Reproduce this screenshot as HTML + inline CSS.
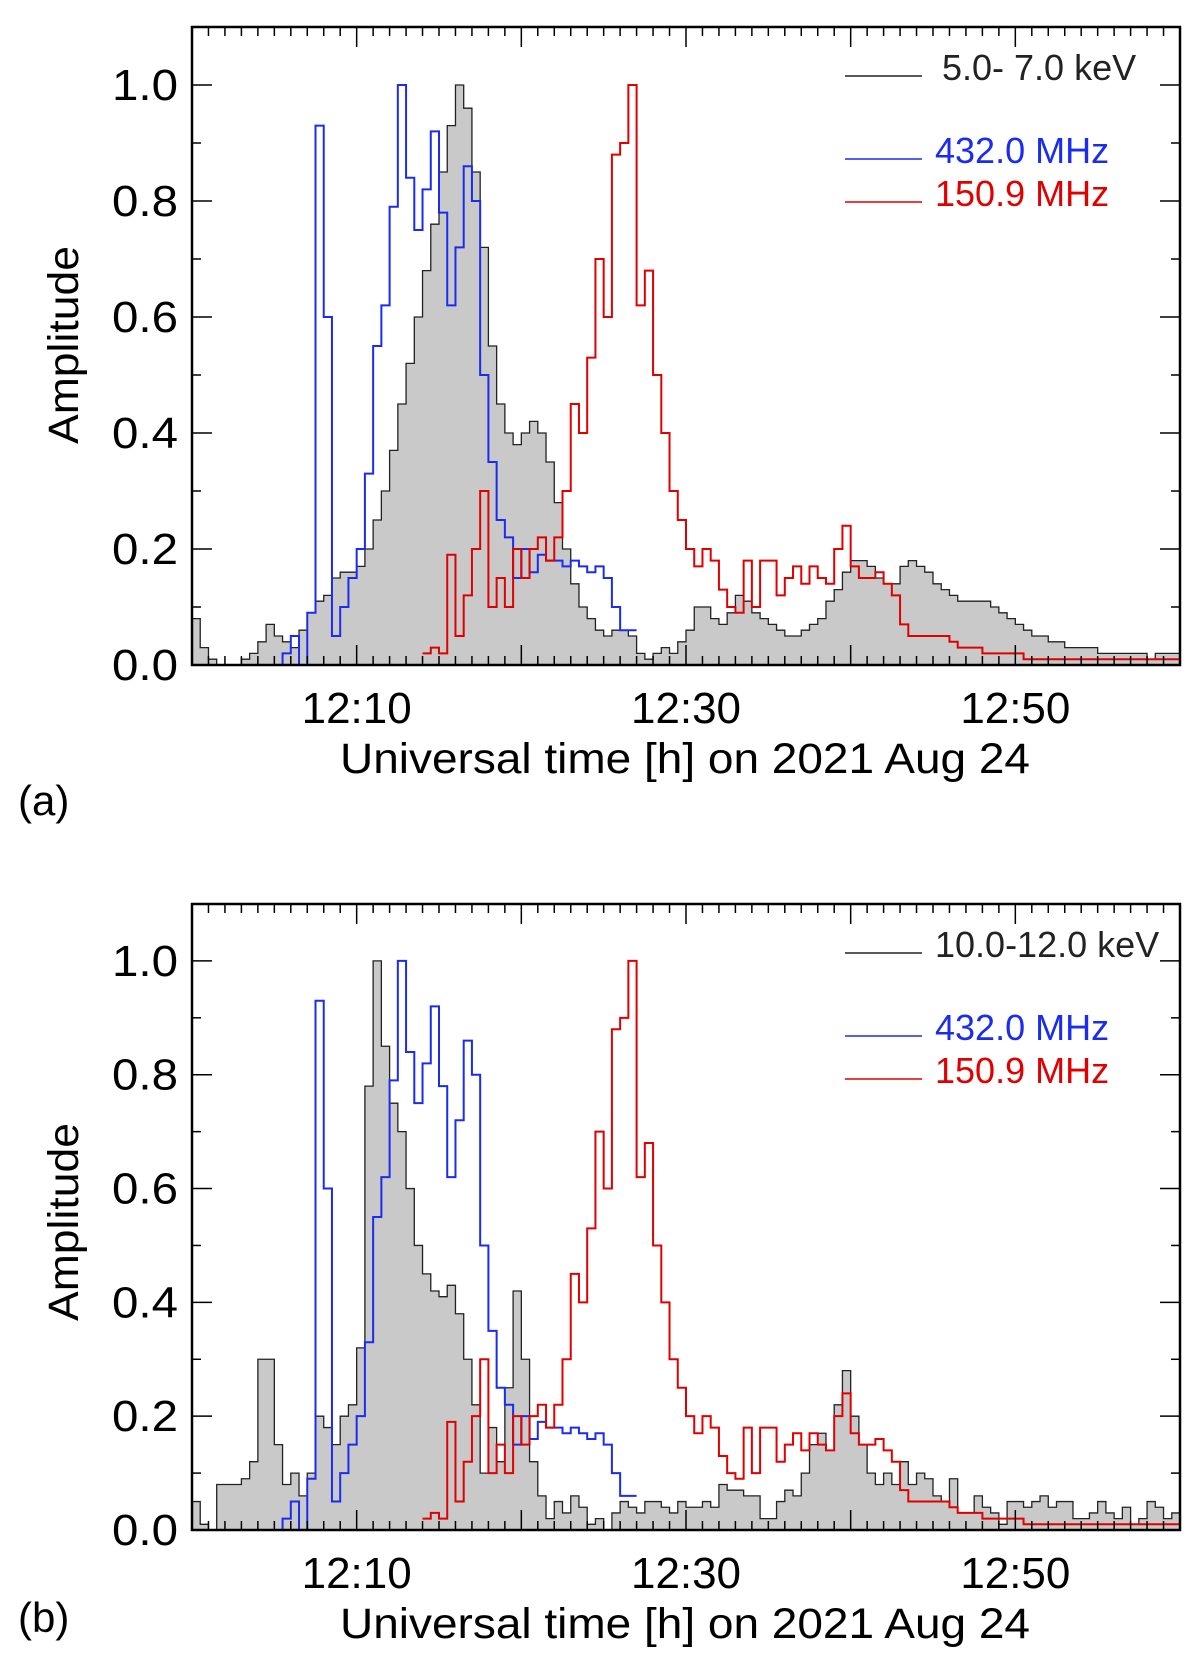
<!DOCTYPE html>
<html><head><meta charset="utf-8">
<style>
html,body{margin:0;padding:0;background:#fff;}
svg{display:block;}
text{font-family:"Liberation Sans",sans-serif;}
</style></head>
<body>
<svg id="chart" width="1200" height="1679" viewBox="0 0 1200 1679" xmlns="http://www.w3.org/2000/svg"></svg>
<script>
// time bins in minutes after 12:00 (bin width 0.5 min)
const grayA = [0.08,0.03,0.01,0,0,0,0.01,0.02,0.04,0.07,0.05,0.04,0.03,0.06,0.09,0.11,0.12,0.15,0.16,0.16,0.17,0.2,0.25,0.3,0.37,0.45,0.52,0.6,0.68,0.76,0.85,0.93,1.0,0.96,0.85,0.72,0.55,0.45,0.4,0.38,0.4,0.42,0.4,0.35,0.28,0.2,0.14,0.1,0.08,0.06,0.05,0.06,0.06,0.05,0.02,0.01,0.02,0.03,0.02,0.04,0.06,0.1,0.1,0.08,0.07,0.09,0.12,0.11,0.09,0.08,0.07,0.06,0.05,0.05,0.06,0.07,0.08,0.11,0.13,0.16,0.18,0.18,0.17,0.15,0.14,0.14,0.17,0.18,0.17,0.16,0.14,0.13,0.12,0.11,0.11,0.11,0.11,0.1,0.09,0.08,0.07,0.06,0.05,0.05,0.04,0.04,0.03,0.03,0.03,0.03,0.02,0.02,0.02,0.02,0.02,0.02,0.01,0.02,0.02,0.02];
const grayB = [0.05,0.01,0,0.08,0.08,0.08,0.09,0.12,0.3,0.3,0.15,0.08,0.1,0.06,0.1,0.2,0.18,0.15,0.2,0.22,0.32,0.78,1.0,0.85,0.75,0.7,0.6,0.5,0.45,0.42,0.41,0.43,0.38,0.3,0.22,0.1,0.18,0.12,0.25,0.42,0.3,0.12,0.06,0.02,0.05,0.03,0.06,0.04,0.01,0.02,0,0.03,0.05,0.04,0.03,0.05,0.05,0.04,0.03,0.05,0.04,0.04,0.05,0.04,0.08,0.07,0.07,0.06,0.06,0.02,0.02,0.05,0.07,0.06,0.1,0.15,0.17,0.14,0.22,0.28,0.2,0.15,0.1,0.08,0.1,0.08,0.12,0.08,0.1,0.09,0.06,0.05,0.09,0.03,0.03,0.06,0.04,0.03,0.01,0.05,0.05,0.04,0.05,0.06,0.04,0.05,0.05,0.02,0.02,0.03,0.05,0.03,0.02,0.04,0.01,0.02,0.05,0.04,0.02,0.03];
const blueStart = 5.0;
const blue = [0,0.02,0.05,0,0.09,0.93,0.6,0.05,0.1,0.15,0.2,0.33,0.55,0.62,0.79,1.0,0.84,0.75,0.82,0.92,0.78,0.62,0.72,0.86,0.8,0.5,0.35,0.25,0.22,0.15,0.2,0.16,0.19,0.18,0.18,0.17,0.18,0.17,0.16,0.17,0.15,0.1,0.06,0.06];
const redStart = 14.0;
const red = [0.02,0.03,0.02,0.19,0.05,0.12,0.2,0.3,0.1,0.15,0.1,0.2,0.15,0.2,0.22,0.18,0.22,0.3,0.45,0.4,0.53,0.7,0.6,0.88,0.9,1.0,0.62,0.68,0.5,0.4,0.3,0.25,0.2,0.17,0.2,0.18,0.13,0.1,0.09,0.18,0.1,0.18,0.18,0.12,0.15,0.17,0.14,0.17,0.15,0.14,0.2,0.24,0.17,0.15,0.15,0.16,0.14,0.12,0.07,0.05,0.05,0.05,0.05,0.05,0.04,0.03,0.03,0.03,0.02,0.02,0.02,0.02,0.02,0.01,0.01,0.01,0.01,0.01,0.01,0.01,0.01,0.01,0.01,0.01,0.01,0.01,0.01,0.01,0.01,0.01,0.01,0.01];
const xTickLabels = ["12:10","12:30","12:50"];
const xTickMinutes = [10,30,50];
const yTicks = [0,0.2,0.4,0.6,0.8,1.0];
const BW = 0.5;

const NS="http://www.w3.org/2000/svg";
const svg=document.getElementById('chart');
function mk(tag,attrs,parent){const e=document.createElementNS(NS,tag);for(const k in attrs)e.setAttribute(k,attrs[k]);(parent||svg).appendChild(e);return e;}

function panel(p){
  const L=192,R=1180,T=p.top,Z=p.zero,S=(Z-T)/1.1;
  const xs=m=>L+(m/60)*(R-L);
  const ys=v=>Z-v*S;
  const g=mk('g',{});
  
  
  const stepPath=(arr,start,close)=>{
    let d='M'+xs(start)+','+(close?Z:ys(arr[0]));
    arr.forEach((v,i)=>{d+=' L'+xs(start+i*BW)+','+ys(v)+' L'+xs(start+(i+1)*BW)+','+ys(v);});
    if(close)d+=' L'+xs(start+arr.length*BW)+','+Z+' Z';
    return d;
  };
  const gf=mk('path',{d:stepPath(p.gray,0,true),fill:'#c9c9c9',stroke:'none'},g);
  
  
  const gl=mk('path',{d:stepPath(p.gray,0,false),fill:'none',stroke:'#222','stroke-width':1.3},g);
  
  
  const bl=mk('path',{d:stepPath(blue,blueStart,false),fill:'none',stroke:'#1a2cf0','stroke-width':2},g);
  
  
  const rl=mk('path',{d:stepPath(red,redStart,false),fill:'none',stroke:'#e00000','stroke-width':2},g);
  
  
  const fr=mk('rect',{x:L,y:T,width:R-L,height:Z-T,fill:'none',stroke:'#000','stroke-width':2.5},g);
  
  
  for(let m=0;m<=60;m++){
    const len=(m%10===0)?20:9;
    mk('line',{x1:xs(m),x2:xs(m),y1:Z,y2:Z-len,stroke:'#000','stroke-width':1.5},g);
    mk('line',{x1:xs(m),x2:xs(m),y1:T,y2:T+len,stroke:'#000','stroke-width':1.5},g);
  }
  xTickMinutes.forEach((m,i)=>{
    const t=mk('text',{x:xs(m),y:Z+58,'text-anchor':'middle','font-size':44,textLength:110,lengthAdjust:'spacingAndGlyphs'},g);
    t.textContent=xTickLabels[i];
    
    
  });
  for(let k=0;k<=11;k++){
    const v=k/10,len=(k%2===0)?20:9;
    mk('line',{x1:L,x2:L+len,y1:ys(v),y2:ys(v),stroke:'#000','stroke-width':1.5},g);
    mk('line',{x1:R,x2:R-len,y1:ys(v),y2:ys(v),stroke:'#000','stroke-width':1.5},g);
  }
  yTicks.forEach(v=>{
    const t=mk('text',{x:L-14,y:ys(v)+15,'text-anchor':'end','font-size':44,textLength:66,lengthAdjust:'spacingAndGlyphs'},g);
    t.textContent=v.toFixed(1);
    
    
  });
  const xt=mk('text',{x:685,y:Z+108,'text-anchor':'middle','font-size':43,textLength:690,lengthAdjust:'spacingAndGlyphs'},g);
  xt.textContent='Universal time [h] on 2021 Aug 24';
  
  
  const yt=mk('text',{x:0,y:0,'text-anchor':'middle','font-size':43,textLength:198,lengthAdjust:'spacingAndGlyphs',transform:'translate(78,'+(T+318)+') rotate(-90)'},g);
  yt.textContent='Amplitude';
  
  
  const pl=mk('text',{x:18,y:p.labelY,'font-size':42,'font-family':'Liberation Serif, serif'},g);
  pl.textContent=p.label;
  
  
  const leg=[[p.legend,'#222',T+41,p.legendX],['432.0 MHz','#1a2cf0',T+124,935],['150.9 MHz','#e00000',T+167,935]];
  leg.forEach(e=>{
    const lg=mk('g',{},g);
    
    
    mk('line',{x1:845,x2:922,y1:e[2]+8,y2:e[2]+8,stroke:e[1],'stroke-width':1.5},lg);
    const t=mk('text',{x:e[3],y:e[2]+12,'font-size':36,fill:e[1]},lg);
    t.textContent=e[0];
  });
}
panel({name:'panel-a',top:27,zero:665,gray:grayA,label:'(a)',labelY:815,legend:'5.0- 7.0 keV',legendX:942});
panel({name:'panel-b',top:904,zero:1530,gray:grayB,label:'(b)',labelY:1632,legend:'10.0-12.0 keV',legendX:935});
</script>
</body></html>
